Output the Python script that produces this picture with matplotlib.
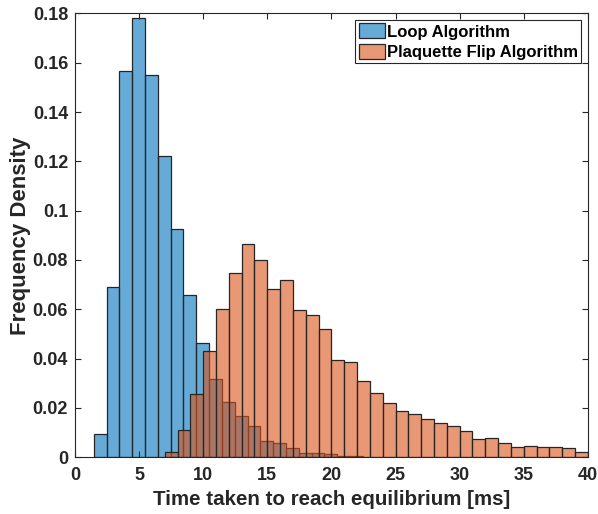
import matplotlib
matplotlib.use("Agg")
import matplotlib.pyplot as plt
from matplotlib.patches import Patch

# Data (frequency density per 1 ms bin)
loop_start = 1.46
bin_width = 1.0
loop_density = [0.0093, 0.0691, 0.1566, 0.178, 0.1549, 0.1223, 0.0924, 0.0657,
                0.0462, 0.0318, 0.0223, 0.0169, 0.0126, 0.0066, 0.0057, 0.0036,
                0.0017, 0.0017, 0.0012, 0.0006, 0.0004]
plaq_start = 7.0
plaq_density = [0.002, 0.0111, 0.0255, 0.0433, 0.0602, 0.0746, 0.0863, 0.0798,
                0.0681, 0.0717, 0.0596, 0.0577, 0.0519, 0.0393, 0.0385, 0.0308,
                0.0261, 0.0220, 0.0186, 0.0175, 0.0155, 0.0138, 0.0126, 0.0105,
                0.0073, 0.0077, 0.0057, 0.0041, 0.0046, 0.0042, 0.0041, 0.0036,
                0.0021]
labels = ["Loop Algorithm", "Plaquette Flip Algorithm"]
xticks = [0, 5, 10, 15, 20, 25, 30, 35, 40]
yticks = [0, 0.02, 0.04, 0.06, 0.08, 0.1, 0.12, 0.14, 0.16, 0.18]
ytick_labels = ["0", "0.02", "0.04", "0.06", "0.08", "0.1", "0.12", "0.14", "0.16", "0.18"]

blue = (0.0, 0.447, 0.741)
orange = (0.85, 0.325, 0.098)
edge = (0.15, 0.15, 0.15)
txt = (0.15, 0.15, 0.15)

plt.rcParams['font.family'] = ['Liberation Sans', 'DejaVu Sans']
plt.rcParams['font.weight'] = 'bold'

fig = plt.figure(figsize=(5.98, 5.14), dpi=100)
ax = fig.add_axes([0.1254, 0.1103, 0.8576, 0.8637])

lx = [loop_start + i * bin_width for i in range(len(loop_density))]
px = [plaq_start + i * bin_width for i in range(len(plaq_density))]

ax.bar(lx, loop_density, width=bin_width, align='edge',
       color=blue + (0.6,), edgecolor=edge, linewidth=0.9)
ax.bar(px, plaq_density, width=bin_width, align='edge',
       color=orange + (0.6,), edgecolor=edge, linewidth=0.9)

ax.set_xlim(0, 40)
ax.set_ylim(0, 0.18)
ax.set_xticks(xticks)
ax.set_xticklabels([str(t) for t in xticks], fontsize=13, fontweight='bold')
ax.set_yticks(yticks)
ax.set_yticklabels(ytick_labels, fontsize=13, fontweight='bold')
ax.tick_params(direction='in', top=True, right=True, length=4, width=0.8,
               colors=(0.15, 0.15, 0.15), labelcolor=txt)
ax.tick_params(axis='x', pad=7)
ax.tick_params(axis='y', pad=5)
for s in ax.spines.values():
    s.set_color((0.15, 0.15, 0.15))
    s.set_linewidth(0.8)

ax.set_xlabel("Time taken to reach equilibrium [ms]", fontsize=14.8,
              fontweight='bold', color=txt, labelpad=4)
ax.set_ylabel("Frequency Density", fontsize=16, fontweight='bold',
              color=txt, labelpad=1)

handles = [Patch(facecolor=blue + (0.6,), edgecolor=edge, linewidth=0.9),
           Patch(facecolor=orange + (0.6,), edgecolor=edge, linewidth=0.9)]
leg = ax.legend(handles, labels, loc='upper right',
                prop={'weight': 'bold', 'size': 12}, fancybox=False,
                framealpha=1, edgecolor=(0.15, 0.15, 0.15),
                handlelength=1.6, handleheight=1.0, handletextpad=0.1,
                borderpad=0.2, labelspacing=0.25, borderaxespad=0.4)
leg.get_frame().set_linewidth(0.8)
for t in leg.get_texts():
    t.set_color('black')

fig.savefig("out.png", dpi=100)
